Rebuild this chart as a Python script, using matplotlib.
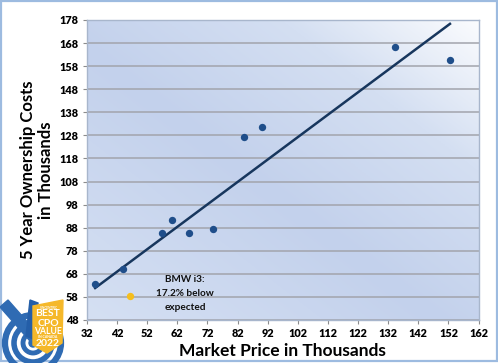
import numpy as np
import matplotlib.pyplot as plt
from matplotlib.colors import LinearSegmentedColormap
from matplotlib.patches import Polygon, Circle, Rectangle

plt.rcParams['font.family'] = ['Lato', 'DejaVu Sans']
plt.rcParams['font.weight'] = 'bold'

# market price (thousands) vs 5 year ownership cost (thousands)
price = [34.7, 44.0, 57.0, 60.3, 65.8, 73.8, 84.2, 90.1, 134.2, 152.5]
cost = [63.6, 70.0, 85.8, 91.5, 85.7, 87.3, 127.2, 131.8, 166.3, 160.8]
i3_price = 46.2
i3_cost = 58.4
xticks = list(range(32, 163, 10))
yticks = list(range(48, 179, 10))

fig = plt.figure(figsize=(4.98, 3.63), dpi=100)
ax = fig.add_axes([0.1747, 0.1185, 0.7863, 0.8265])

# gradient background
cmap = LinearSegmentedColormap.from_list(
    "bg", [(0, "#d5e0f3"), (0.45, "#c3d1ec"), (0.75, "#d4dff2"), (1, "#fbfcfe")])
u, v = np.meshgrid(np.linspace(0, 1, 200), np.linspace(0, 1, 200))
ax.imshow((u + v) / 2, cmap=cmap, extent=[0, 1, 0, 1], transform=ax.transAxes,
          origin="lower", aspect="auto", zorder=0, interpolation="bilinear")

ax.set_xlim(32, 162)
ax.set_ylim(48, 178)
ax.set_xticks(xticks)
ax.set_yticks(yticks)
ax.tick_params(labelsize=7.8, length=3, color="#8c8c8c", pad=3)
for lab in ax.get_xticklabels() + ax.get_yticklabels():
    lab.set_fontweight("heavy")
ax.grid(axis="y", color="#a2a4ac", linewidth=1.1, zorder=1)
ax.grid(axis="x", visible=False)
for s in ax.spines.values():
    s.set_color("#a8b6cc")
    s.set_linewidth(1)

# trend line through all points
all_x = np.array(price + [i3_price])
all_y = np.array(cost + [i3_cost])
k, b = np.polyfit(all_x, all_y, 1)
xs = np.array([all_x.min(), all_x.max()])
ax.plot(xs, k * xs + b, color="#17365d", linewidth=1.8, zorder=3)

ax.scatter(price, cost, s=28, color="#1f4e8a", zorder=4, linewidths=0)
ax.scatter([i3_price], [i3_cost], s=28, color="#f5be1e", zorder=4, linewidths=0)

ax.text(64.5, 59.6, "BMW i3:\n17.2% below\nexpected", ha="center", va="center",
        fontsize=7.2, fontweight="bold", linespacing=1.7, color="#111111", zorder=5)

ax.set_xlabel("Market Price in Thousands", fontsize=12.5, fontweight="bold", labelpad=3)
ax.set_ylabel("5 Year Ownership Costs\nin Thousands", fontsize=12, fontweight="bold",
              labelpad=4, linespacing=1.15)

# overlay axes in pixel coords for border and badge
ov = fig.add_axes([0, 0, 1, 1], zorder=10)
ov.set_xlim(0, 498)
ov.set_ylim(363, 0)
ov.axis("off")
ov.add_patch(Rectangle((1, 1), 496, 360, fill=False, edgecolor="#9dbbe0", linewidth=1.6))

blue = "#2f6bb3"
for r, w in [(28, 4.5), (19, 4.0), (10, 3.5)]:
    ov.add_patch(Circle((33, 343), r, fill=False, edgecolor=blue, linewidth=w))
ov.add_patch(Circle((33, 343), 4, color=blue))
ov.add_patch(Polygon([(0, 307), (8, 300), (38, 334), (30, 341)], color=blue))
ov.add_patch(Polygon([(26, 336), (30, 300), (38, 303), (36, 340)], color="#245ea8"))
ov.add_patch(Polygon([(33, 306), (63, 300), (62, 343), (47, 353), (33, 345)],
                     color="#f5b82a"))
ov.text(48, 308, "VINCENTRIC", fontsize=2.2, color="white", ha="center", va="center")
for txt, yy, fs in [("BEST", 314, 7.5), ("CPO", 323, 7.5), ("VALUE", 331, 6.2)]:
    ov.text(48, yy, txt, fontsize=fs, color="white", ha="center", va="center",
            fontweight="bold")
ov.text(48, 337, "IN CANADA", fontsize=2.5, color="white", ha="center", va="center")
ov.text(48, 344, "2022", fontsize=7.5, color="white", ha="center", va="center",
        fontweight="bold")

fig.savefig("out.png", dpi=100)
